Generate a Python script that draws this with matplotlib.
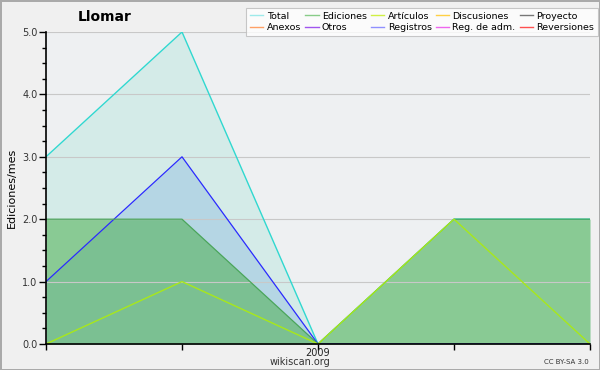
import matplotlib
matplotlib.use("Agg")
import matplotlib.pyplot as plt
from matplotlib.lines import Line2D
from matplotlib.ticker import MultipleLocator

# data (5 monthly points, 2009 centered)
months = [0, 1, 2, 3, 4]
xlabels = ["", "", "2009", "", ""]
total = [3, 5, 0, 2, 2]
registros = [1, 3, 0, 0, 0]
ediciones = [2, 2, 0, 2, 2]
articulos = [0, 1, 0, 2, 0]

legend_names = ["Total", "Anexos", "Ediciones", "Otros", "Artículos",
                "Registros", "Discusiones", "Reg. de adm.", "Proyecto", "Reversiones"]
legend_colors = ["#9eeaea", "#ffa066", "#88cc88", "#a055ee", "#d0f044",
                 "#9090ff", "#ffd044", "#ee66ee", "#777777", "#ff5050"]

plt.rcParams['font.family'] = ['DejaVu Sans']

fig = plt.figure(figsize=(6, 3.7), dpi=100, facecolor="#f0f0f0",
                 edgecolor="#aaaaaa", linewidth=2)
ax = fig.add_axes([46/600, 26/370, 544/600, 312/370])
ax.set_facecolor("#eef0f2")

ax.fill_between(months, total, color="#40d0b0", alpha=0.15, lw=0)
ax.fill_between(months, registros, color="#6fa8dc", alpha=0.3, lw=0)
ax.fill_between(months, ediciones, color="#4caf50", alpha=0.55, lw=0)

ax.plot(months, total, color="#30d8d0", lw=1)
ax.plot(months, registros, color="#2a2aff", lw=0.9)
ax.plot(months, ediciones, color="#4aa55a", lw=0.9)
ax.plot(months, articulos, color="#a8e81a", lw=1)

ax.set_xlim(0, 4)
ax.set_ylim(0, 5)
ax.set_xticks(months)
ax.set_xticklabels(xlabels, fontsize=7, color="#222222")
ax.yaxis.set_major_locator(MultipleLocator(1))
ax.yaxis.set_minor_locator(MultipleLocator(0.25))
ax.set_yticklabels([f"{v:.1f}" for v in ax.get_yticks()], fontsize=7, color="#333333")
ax.tick_params(axis="y", which="major", length=5, width=1, pad=1)
ax.tick_params(axis="y", which="minor", length=3, width=1)
ax.tick_params(axis="x", length=4, width=1, pad=-1)
ax.grid(axis="y", color="#c8c8c8", lw=0.8)
for s in ["top", "right"]:
    ax.spines[s].set_visible(False)
ax.spines["left"].set_linewidth(1.2)
ax.spines["bottom"].set_linewidth(1.2)
ax.set_ylabel("Ediciones/mes", fontsize=8, labelpad=4)

fig.text(105/600, 1 - 17/370, "Llomar", fontsize=10, fontweight="bold",
         ha="center", va="center")
fig.text(300/600, 1 - 362/370, "wikiscan.org", fontsize=7, ha="center", va="center",
         color="#333333")
fig.text(589/600, 1 - 362/370, "CC BY-SA 3.0", fontsize=5, ha="right", va="center",
         color="#333333")

handles = [Line2D([], [], color=c, lw=1) for c in legend_colors]
leg = fig.legend(handles, legend_names, ncol=5, loc="upper right",
                 bbox_to_anchor=(598/600, 1 - 8/370), fontsize=6.8,
                 frameon=True, fancybox=False, edgecolor="#bbbbbb",
                 facecolor="#ffffff", handlelength=1.4, handletextpad=0.35,
                 columnspacing=0.45, labelspacing=0.25, borderpad=0.4,
                 borderaxespad=0)
leg.get_frame().set_linewidth(0.8)

fig.savefig("out.png", dpi=100, facecolor=fig.get_facecolor(),
            edgecolor=fig.get_edgecolor())
